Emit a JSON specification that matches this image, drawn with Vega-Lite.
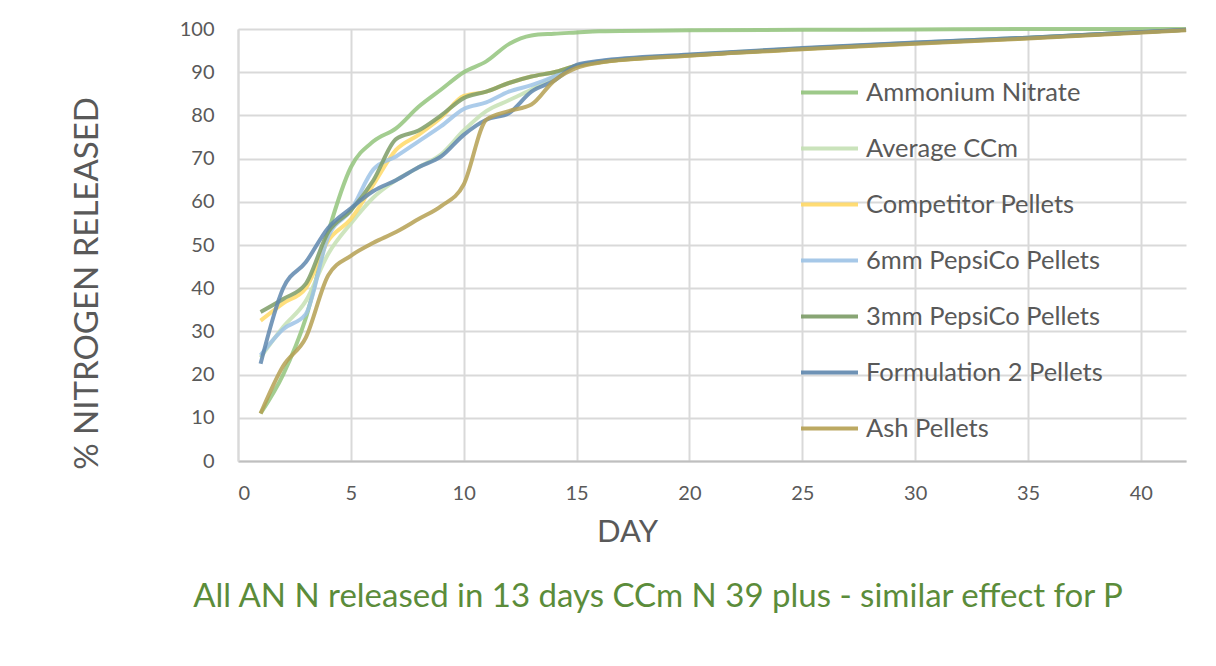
{
  "$schema": "https://vega.github.io/schema/vega-lite/v6.json",
  "width": 948,
  "height": 432,
  "autosize": {"type": "none"},
  "padding": {"left": 238, "top": 29, "right": 30, "bottom": 205},
  "background": "white",
  "title": {"text": "All AN N released in 13 days CCm N 39 plus - similar effect for P", "orient": "bottom", "anchor": "middle", "dx": -54, "offset": 34, "font": "Lato", "fontSize": 33, "fontWeight": "normal", "color": "#5B8C3A"},
  "config": {
    "view": {"stroke": null},
    "font": "Lato"
  },
  "data": {"values": [
    {"day":1,"series":"Ammonium Nitrate","value":11},{"day":2,"series":"Ammonium Nitrate","value":20},{"day":3,"series":"Ammonium Nitrate","value":33},{"day":4,"series":"Ammonium Nitrate","value":53},{"day":5,"series":"Ammonium Nitrate","value":68},{"day":6,"series":"Ammonium Nitrate","value":74},{"day":7,"series":"Ammonium Nitrate","value":77},{"day":8,"series":"Ammonium Nitrate","value":82},{"day":9,"series":"Ammonium Nitrate","value":86},{"day":10,"series":"Ammonium Nitrate","value":90},{"day":11,"series":"Ammonium Nitrate","value":92.5},{"day":12,"series":"Ammonium Nitrate","value":96.5},{"day":13,"series":"Ammonium Nitrate","value":98.5},{"day":14,"series":"Ammonium Nitrate","value":98.9},{"day":15,"series":"Ammonium Nitrate","value":99.2},{"day":16,"series":"Ammonium Nitrate","value":99.5},{"day":20,"series":"Ammonium Nitrate","value":99.7},{"day":25,"series":"Ammonium Nitrate","value":99.8},{"day":30,"series":"Ammonium Nitrate","value":99.9},{"day":35,"series":"Ammonium Nitrate","value":100},{"day":42,"series":"Ammonium Nitrate","value":100},

    {"day":1,"series":"Average CCm","value":24},{"day":2,"series":"Average CCm","value":31},{"day":3,"series":"Average CCm","value":37},{"day":4,"series":"Average CCm","value":48},{"day":5,"series":"Average CCm","value":55},{"day":6,"series":"Average CCm","value":61},{"day":7,"series":"Average CCm","value":65},{"day":8,"series":"Average CCm","value":68},{"day":9,"series":"Average CCm","value":71},{"day":10,"series":"Average CCm","value":76.5},{"day":11,"series":"Average CCm","value":81},{"day":12,"series":"Average CCm","value":83.5},{"day":13,"series":"Average CCm","value":86},{"day":14,"series":"Average CCm","value":89},{"day":15,"series":"Average CCm","value":91.5},{"day":16,"series":"Average CCm","value":92.4},{"day":20,"series":"Average CCm","value":94},{"day":25,"series":"Average CCm","value":95.5},{"day":30,"series":"Average CCm","value":96.8},{"day":35,"series":"Average CCm","value":98},{"day":42,"series":"Average CCm","value":99.8},

    {"day":1,"series":"Competitor Pellets","value":32.5},{"day":2,"series":"Competitor Pellets","value":36.5},{"day":3,"series":"Competitor Pellets","value":40},{"day":4,"series":"Competitor Pellets","value":51},{"day":5,"series":"Competitor Pellets","value":56},{"day":6,"series":"Competitor Pellets","value":64},{"day":7,"series":"Competitor Pellets","value":72},{"day":8,"series":"Competitor Pellets","value":75.5},{"day":9,"series":"Competitor Pellets","value":79.5},{"day":10,"series":"Competitor Pellets","value":84.5},{"day":11,"series":"Competitor Pellets","value":85.5},{"day":12,"series":"Competitor Pellets","value":87.5},{"day":13,"series":"Competitor Pellets","value":89},{"day":14,"series":"Competitor Pellets","value":90},{"day":15,"series":"Competitor Pellets","value":91.5},{"day":16,"series":"Competitor Pellets","value":92.3},{"day":20,"series":"Competitor Pellets","value":93.9},{"day":25,"series":"Competitor Pellets","value":95.4},{"day":30,"series":"Competitor Pellets","value":96.7},{"day":35,"series":"Competitor Pellets","value":97.9},{"day":42,"series":"Competitor Pellets","value":99.8},

    {"day":1,"series":"6mm PepsiCo Pellets","value":24.5},{"day":2,"series":"6mm PepsiCo Pellets","value":30.5},{"day":3,"series":"6mm PepsiCo Pellets","value":34},{"day":4,"series":"6mm PepsiCo Pellets","value":52},{"day":5,"series":"6mm PepsiCo Pellets","value":58},{"day":6,"series":"6mm PepsiCo Pellets","value":67.5},{"day":7,"series":"6mm PepsiCo Pellets","value":70.5},{"day":8,"series":"6mm PepsiCo Pellets","value":74},{"day":9,"series":"6mm PepsiCo Pellets","value":77.5},{"day":10,"series":"6mm PepsiCo Pellets","value":81.5},{"day":11,"series":"6mm PepsiCo Pellets","value":83},{"day":12,"series":"6mm PepsiCo Pellets","value":85.5},{"day":13,"series":"6mm PepsiCo Pellets","value":87},{"day":14,"series":"6mm PepsiCo Pellets","value":89},{"day":15,"series":"6mm PepsiCo Pellets","value":91.5},{"day":16,"series":"6mm PepsiCo Pellets","value":92.5},{"day":20,"series":"6mm PepsiCo Pellets","value":94},{"day":25,"series":"6mm PepsiCo Pellets","value":95.5},{"day":30,"series":"6mm PepsiCo Pellets","value":96.8},{"day":35,"series":"6mm PepsiCo Pellets","value":98},{"day":42,"series":"6mm PepsiCo Pellets","value":99.8},

    {"day":1,"series":"3mm PepsiCo Pellets","value":34.5},{"day":2,"series":"3mm PepsiCo Pellets","value":37.5},{"day":3,"series":"3mm PepsiCo Pellets","value":41},{"day":4,"series":"3mm PepsiCo Pellets","value":53},{"day":5,"series":"3mm PepsiCo Pellets","value":58},{"day":6,"series":"3mm PepsiCo Pellets","value":65},{"day":7,"series":"3mm PepsiCo Pellets","value":74.5},{"day":8,"series":"3mm PepsiCo Pellets","value":76.5},{"day":9,"series":"3mm PepsiCo Pellets","value":80},{"day":10,"series":"3mm PepsiCo Pellets","value":84},{"day":11,"series":"3mm PepsiCo Pellets","value":85.5},{"day":12,"series":"3mm PepsiCo Pellets","value":87.5},{"day":13,"series":"3mm PepsiCo Pellets","value":89},{"day":14,"series":"3mm PepsiCo Pellets","value":90},{"day":15,"series":"3mm PepsiCo Pellets","value":91.5},{"day":16,"series":"3mm PepsiCo Pellets","value":92.3},{"day":20,"series":"3mm PepsiCo Pellets","value":93.9},{"day":25,"series":"3mm PepsiCo Pellets","value":95.4},{"day":30,"series":"3mm PepsiCo Pellets","value":96.7},{"day":35,"series":"3mm PepsiCo Pellets","value":97.9},{"day":42,"series":"3mm PepsiCo Pellets","value":99.8},

    {"day":1,"series":"Formulation 2 Pellets","value":22.5},{"day":2,"series":"Formulation 2 Pellets","value":40},{"day":3,"series":"Formulation 2 Pellets","value":46},{"day":4,"series":"Formulation 2 Pellets","value":54},{"day":5,"series":"Formulation 2 Pellets","value":58.5},{"day":6,"series":"Formulation 2 Pellets","value":62.5},{"day":7,"series":"Formulation 2 Pellets","value":65},{"day":8,"series":"Formulation 2 Pellets","value":68},{"day":9,"series":"Formulation 2 Pellets","value":70.5},{"day":10,"series":"Formulation 2 Pellets","value":75.5},{"day":11,"series":"Formulation 2 Pellets","value":79},{"day":12,"series":"Formulation 2 Pellets","value":80.5},{"day":13,"series":"Formulation 2 Pellets","value":85.5},{"day":14,"series":"Formulation 2 Pellets","value":88},{"day":15,"series":"Formulation 2 Pellets","value":91.7},{"day":16,"series":"Formulation 2 Pellets","value":92.6},{"day":20,"series":"Formulation 2 Pellets","value":94.1},{"day":25,"series":"Formulation 2 Pellets","value":95.6},{"day":30,"series":"Formulation 2 Pellets","value":96.9},{"day":35,"series":"Formulation 2 Pellets","value":98},{"day":42,"series":"Formulation 2 Pellets","value":99.8},

    {"day":1,"series":"Ash Pellets","value":11},{"day":2,"series":"Ash Pellets","value":22},{"day":3,"series":"Ash Pellets","value":28.5},{"day":4,"series":"Ash Pellets","value":43},{"day":5,"series":"Ash Pellets","value":47.5},{"day":6,"series":"Ash Pellets","value":50.5},{"day":7,"series":"Ash Pellets","value":53},{"day":8,"series":"Ash Pellets","value":56},{"day":9,"series":"Ash Pellets","value":59},{"day":10,"series":"Ash Pellets","value":64},{"day":11,"series":"Ash Pellets","value":79},{"day":12,"series":"Ash Pellets","value":81},{"day":13,"series":"Ash Pellets","value":82.5},{"day":14,"series":"Ash Pellets","value":88},{"day":15,"series":"Ash Pellets","value":91},{"day":16,"series":"Ash Pellets","value":92.2},{"day":20,"series":"Ash Pellets","value":93.8},{"day":25,"series":"Ash Pellets","value":95.3},{"day":30,"series":"Ash Pellets","value":96.6},{"day":35,"series":"Ash Pellets","value":97.8},{"day":42,"series":"Ash Pellets","value":99.7}
  ]},
  "mark": {"type": "line", "interpolate": "monotone", "strokeWidth": 4, "strokeOpacity": 0.85},
  "encoding": {
    "x": {"field": "day", "type": "quantitative",
      "scale": {"domain": [0, 42], "nice": false},
      "axis": {"title": "DAY", "values": [0,5,10,15,20,25,30,35,40], "grid": true, "gridColor": "#D9D9D9", "gridWidth": 2,
        "domainColor": "#BFBFBF", "domainWidth": 2, "ticks": false, "labelPadding": 22,
        "labelFont": "Lato", "labelFontSize": 20, "labelColor": "#595959",
        "titleFont": "Lato", "titleFontSize": 31, "titleFontWeight": "normal", "titleColor": "#595959", "titlePadding": 14, "titleX": 389}},
    "y": {"field": "value", "type": "quantitative",
      "scale": {"domain": [0, 100], "nice": false},
      "axis": {"title": "% NITROGEN RELEASED", "values": [0,10,20,30,40,50,60,70,80,90,100], "grid": true, "gridColor": "#D9D9D9", "gridWidth": 2,
        "domain": true, "domainColor": "#D9D9D9", "domainWidth": 2, "ticks": false, "labelPadding": 24,
        "labelFont": "Lato", "labelFontSize": 20, "labelColor": "#595959",
        "titleFont": "Lato", "titleFontSize": 33, "titleFontWeight": "normal", "titleColor": "#595959", "titlePadding": 75, "titleY": 254}},
    "color": {"field": "series", "type": "nominal",
      "scale": {"domain": ["Ammonium Nitrate","Average CCm","Competitor Pellets","6mm PepsiCo Pellets","3mm PepsiCo Pellets","Formulation 2 Pellets","Ash Pellets"],
        "range": ["#93C47D","#C5E0B4","#FFD966","#9DC3E6","#7C9C66","#5F87AE","#B5A052"]},
      "legend": {"orient": "none", "legendX": 561, "legendY": 33, "title": null,
        "symbolType": "stroke", "symbolSize": 3249, "symbolStrokeWidth": 4, "symbolOpacity": 0.9,
        "labelFont": "Lato", "labelFontSize": 25.5, "labelColor": "#595959", "labelOffset": 6, "rowPadding": 12, "labelLimit": 400}}
  }
}
